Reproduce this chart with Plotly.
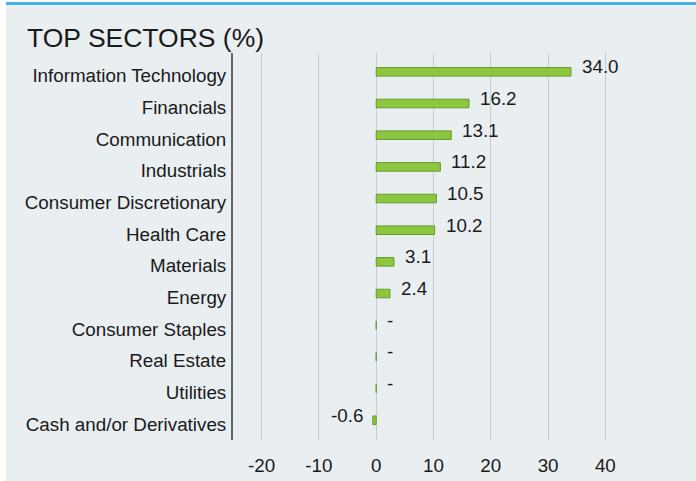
import plotly.graph_objects as go

categories = ["Information Technology", "Financials", "Communication", "Industrials",
              "Consumer Discretionary", "Health Care", "Materials", "Energy",
              "Consumer Staples", "Real Estate", "Utilities", "Cash and/or Derivatives"]
values = [34.0, 16.2, 13.1, 11.2, 10.5, 10.2, 3.1, 2.4, 0.0, 0.0, 0.0, -0.6]
labels = ["-" if v == 0 else f"{v:.1f}" for v in values]
x_ticks = [-20, -10, 0, 10, 20, 30, 40]

W, H = 696, 481
L, R, T, B = 233, 62, 53, 41
pw, ph = W - L - R, H - T - B

def px_x(p):
    return (p - L) / pw

def px_y(p):
    return (H - B - p) / ph

BG = "#e9eef1"
TXT = "#1a1a1a"
FONT = "Liberation Sans, Arial, sans-serif"
FS = 18.8

fig = go.Figure()
fig.add_trace(go.Bar(
    y=categories, x=values, orientation="h",
    width=0.27, offset=-0.26,
    marker=dict(color="#8dc63f", line=dict(color="#679a2c", width=1)),
    hoverinfo="skip",
))

annotations = []
for c, v, t in zip(categories, values, labels):
    annotations.append(dict(
        x=v, y=c, xref="x", yref="y", text=t, showarrow=False,
        xanchor="right" if v < 0 else "left",
        xshift=-8 if v < 0 else 9, yshift=9,
        font=dict(size=FS, color=TXT, family=FONT),
    ))

fig.update_layout(
    width=W, height=H,
    margin=dict(l=L, r=R, t=T, b=B, pad=0, autoexpand=False),
    paper_bgcolor="white", plot_bgcolor=BG,
    showlegend=False,
    font=dict(family=FONT, size=FS, color=TXT),
    title=dict(text="TOP SECTORS (%)", x=27 / W, xref="container", xanchor="left",
               y=1 - 38 / H, yref="container", yanchor="middle",
               font=dict(size=26.5, color=TXT, family=FONT)),
    xaxis=dict(range=[-25, 45], tickvals=x_ticks, ticktext=[str(v) for v in x_ticks],
               showgrid=True, gridcolor="#c9cdd0", gridwidth=1,
               zeroline=True, zerolinecolor="#c9cdd0", zerolinewidth=1,
               showline=False, ticks="outside", ticklen=8, tickcolor="rgba(0,0,0,0)",
               tickfont=dict(size=FS, color=TXT), fixedrange=True, automargin=False),
    yaxis=dict(categoryorder="array", categoryarray=categories,
               range=[11.5, -0.72], showgrid=False, zeroline=False,
               showline=True, linecolor="#666666", linewidth=2,
               ticks="outside", ticklen=1, tickcolor="rgba(0,0,0,0)",
               tickfont=dict(size=FS, color=TXT), fixedrange=True, automargin=False),
    annotations=annotations,
    shapes=[
        dict(type="rect", xref="paper", yref="paper", layer="below",
             x0=px_x(6), x1=px_x(W + 2), y0=px_y(H + 2), y1=px_y(4),
             fillcolor=BG, line=dict(width=0)),
        dict(type="line", xref="paper", yref="paper", layer="above",
             x0=px_x(6), x1=px_x(W + 2), y0=px_y(3.5), y1=px_y(3.5),
             line=dict(color="#44b2e5", width=3)),
    ],
)

fig.write_html("out.html")
